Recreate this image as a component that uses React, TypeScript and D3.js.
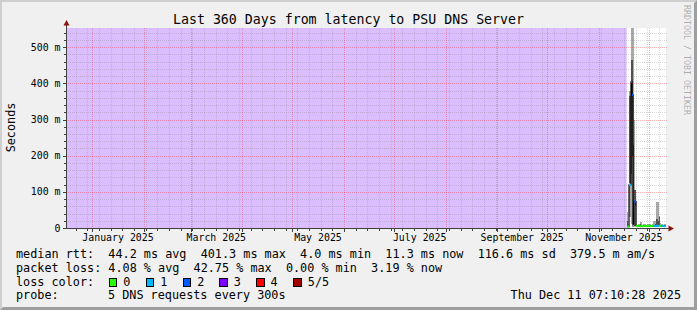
import React from "react";
import * as d3 from "d3";

// ---------- data ----------
const GRAPH_START = "2024-12-16T07:10:28Z";
const GRAPH_END = "2025-12-11T07:10:28Z";
const UNKNOWN_END = "2025-11-17T17:15:00Z"; // no data before this (loss background)
const DATA_START = "2025-11-17T21:34:00Z";
const DATA_STEP_HOURS = 14.4;

const Y_MAX_MS = 553;
const Y_TICKS = [0, 100, 200, 300, 400, 500];
const Y_TICK_LABELS = ["0", "100 m", "200 m", "300 m", "400 m", "500 m"];
const Y_MINOR_STEP = 20;

const X_LABEL_MONTHS = ["2025-01-01", "2025-03-01", "2025-05-01", "2025-07-01", "2025-09-01", "2025-11-01"];
const X_LABELS = ["January 2025", "March 2025", "May 2025", "July 2025", "September 2025", "November 2025"];

// median rtt (ms) per rrd step
const MEDIAN = [4, 4, 119, 119, 404, 368, 6, 73, 73,
  6, 5, 6, 6, 5, 6, 6, 5, 6, 6, 5, 6, 6, 6, 5, 6, 6,
  6, 6, 5, 6, 6, 6, 5, 6, 6, 6, 6, 5, 6, 6];
// lost pings out of 5 per step
const LOSS = [1, 0, 1, 1, 3, 2, 0, 2, 2,
  0, 0, 0, 0, 0, 0, 0, 0, 0, 0, 0, 0, 0, 0, 0, 0, 0,
  1, 1, 1, 1, 1, 1, 0, 0, 1, 1, 1, 1, 1, 1];
// smoke: outer ping range
const SMOKE_LO = [3, 3, 30, 30, 10, 10, 3, 5, 5,
  3, 3, 3, 3, 3, 3, 3, 3, 3, 3, 3, 3, 3, 3, 3, 3, 3,
  3, 3, 3, 3, 3, 3, 3, 3, 3, 3, 3, 3, 3, 3];
const SMOKE_HI = [44, 10, 380, 380, 620, 620, 620, 300, 105,
  10, 9, 10, 11, 17, 17, 9, 10, 12, 10, 9, 11, 10, 12, 10, 9, 11,
  19, 19, 19, 73, 73, 73, 33, 14, 10, 12, 9, 11, 10, 12];
// smoke: inner ping range
const INNER_LO = [3, 3, 124, 124, 150, 200, 40, 73, 60,
  4, 4, 4, 4, 4, 4, 4, 4, 4, 4, 4, 4, 4, 4, 4, 4, 4,
  4, 4, 4, 8, 8, 6, 6, 4, 4, 4, 4, 4, 4, 4];
const INNER_HI = [20, 6, 365, 365, 465, 465, 230, 105, 105,
  7, 6, 7, 8, 10, 9, 6, 7, 8, 7, 6, 7, 7, 8, 7, 6, 7,
  9, 9, 10, 25, 25, 20, 30, 9, 7, 8, 6, 7, 7, 8];

const LOSS_COLORS = ["#26ff00", "#00b8ff", "#0059ff", "#7e00ff", "#ff0000", "#a10000"];
const LOSS_LABELS = ["0", "1", "2", "3", "4", "5/5"];
const UNKNOWN_BG = "#dbbeff";

const LEGEND_RTT_LABEL = "median rtt:";
const LEGEND_RTT = ["44.2 ms avg", "401.3 ms max", "4.0 ms min", "11.3 ms now", "116.6 ms sd", "379.5 m am/s"];
const LEGEND_LOSS_LABEL = "packet loss:";
const LEGEND_LOSS = ["4.08 % avg", "42.75 % max", "0.00 % min", "3.19 % now"];
const LEGEND_PROBE = ["probe:", "5 DNS requests every 300s"];
const TITLE = "Last 360 Days from latency to PSU DNS Server";
const TIMESTAMP = "Thu Dec 11 07:10:28 2025";

// ---------- layout ----------
const W = 697, H = 310;
const X0 = 66, X1 = 666, YT = 28, YB = 228;
const FONT = "'DejaVu Sans Mono', monospace";
const BOX_X = [108.7, 145.7, 182.7, 219.3, 256, 293.3];
const GRID_MINOR = "rgba(128,128,128,0.3)";
const GRID_MAJOR = "rgba(255,0,0,0.3)";
const PRE: React.CSSProperties = { whiteSpace: "pre" };

export default function App() {
  const start = new Date(GRAPH_START);
  const end = new Date(GRAPH_END);
  const x = d3.scaleUtc().domain([start, end]).range([X0, X1]);
  const y = d3.scaleLinear().domain([0, Y_MAX_MS]).range([YB, YT]);

  const d0 = new Date(DATA_START).getTime();
  const stepMs = DATA_STEP_HOURS * 3600 * 1000;
  const times = MEDIAN.map((_, i) => new Date(d0 + i * stepMs));
  const colX = (i: number) => x(new Date(d0 + i * stepMs));

  const months = d3.utcMonth.range(start, end);
  const monthSet = new Set(months.map((m) => +m));
  const weeks = d3.utcSunday.range(start, end).filter((w) => !monthSet.has(+w));

  const minorY: number[] = [];
  for (let v = Y_MINOR_STEP; v < Y_MAX_MS; v += Y_MINOR_STEP) if (v % 100 !== 0) minorY.push(v);

  const stepPts: [number, number][] = MEDIAN.map((m, i) => [colX(i), y(m)]);
  stepPts.push([colX(MEDIAN.length), y(MEDIAN[MEDIAN.length - 1])]);
  const medianPath = d3.line().curve(d3.curveStepAfter)(stepPts) || "";

  const clamp = (v: number) => Math.max(YT, v);
  const px = (v: number) => Math.round(v) + 0.5;

  const rttLine = LEGEND_RTT_LABEL + "  " + LEGEND_RTT.join("  ");
  const lossLine = LEGEND_LOSS_LABEL + " " + LEGEND_LOSS.join("  ");

  return (
    <div style={{ position: "absolute", left: 0, top: 0 }}>
      <svg width={W} height={H} style={{ display: "block" }} fontFamily={FONT}>
        <defs>
          <clipPath id="plot"><rect x={X0} y={YT} width={X1 - X0} height={YB - YT} /></clipPath>
        </defs>
        <rect x={0} y={0} width={W} height={H} fill="#f0f0f0" />
        <polygon points={`0,0 ${W},0 ${W - 2},2 2,2 2,${H - 2} 0,${H}`} fill="#cfcfcf" />
        <polygon points={`${W},${H} 0,${H} 3,${H - 3} ${W - 3},${H - 3} ${W - 3},3 ${W},0`} fill="#9e9e9e" />

        {/* canvas */}
        <rect x={X0} y={YT} width={X1 - X0} height={YB - YT} fill="#ffffff" />
        <rect x={x(start)} y={YT} width={x(new Date(UNKNOWN_END)) - x(start)} height={YB - YT} fill={UNKNOWN_BG} />

        {/* smoke */}
        <g clipPath="url(#plot)" shapeRendering="crispEdges">
          {times.map((t, i) => (
            <rect key={"s" + i} x={colX(i)} width={colX(i + 1) - colX(i) + 0.05}
              y={clamp(y(SMOKE_HI[i]))} height={y(SMOKE_LO[i]) - clamp(y(SMOKE_HI[i]))} fill="#a8a8a8" />
          ))}
          {times.map((t, i) => (
            <rect key={"d" + i} x={colX(i)} width={colX(i + 1) - colX(i) + 0.05}
              y={clamp(y(INNER_HI[i]))} height={y(INNER_LO[i]) - clamp(y(INNER_HI[i]))} fill="#505050" />
          ))}
        </g>

        {/* grid */}
        <g strokeDasharray="1,1" strokeWidth={1} shapeRendering="crispEdges">
          {weeks.map((w, i) => (
            <line key={"wv" + i} x1={px(x(w))} x2={px(x(w))} y1={YT} y2={YB} stroke={GRID_MINOR} />
          ))}
          {minorY.map((v, i) => (
            <line key={"mh" + i} x1={X0} x2={X1 + 1} y1={px(y(v))} y2={px(y(v))} stroke={GRID_MINOR} />
          ))}
          {months.map((m, i) => (
            <line key={"Mv" + i} x1={px(x(m))} x2={px(x(m))} y1={YT} y2={YB} stroke={GRID_MAJOR} />
          ))}
          {Y_TICKS.filter((v) => v > 0).map((v, i) => (
            <line key={"Mh" + i} x1={X0} x2={X1 + 1} y1={px(y(v))} y2={px(y(v))} stroke={GRID_MAJOR} />
          ))}
        </g>

        {/* median line */}
        <g clipPath="url(#plot)">
          <path d={medianPath} fill="none" stroke="#000" strokeWidth={1.2} />
          {MEDIAN.map((m, i) => (
            <rect key={"m" + i} x={colX(i)} width={colX(i + 1) - colX(i) + 0.1} y={y(m) - 1} height={2}
              fill={LOSS_COLORS[LOSS[i]]} />
          ))}
        </g>

        {/* axes */}
        <g shapeRendering="crispEdges" stroke="#404040">
          <line x1={X0 + 0.5} x2={X0 + 0.5} y1={YB + 1} y2={23} />
          <line x1={63} x2={669} y1={YB + 0.5} y2={YB + 0.5} />
          {minorY.map((v, i) => (
            <line key={"yt" + i} x1={64} x2={X0} y1={px(y(v))} y2={px(y(v))} />
          ))}
          {Y_TICKS.map((v, i) => (
            <line key={"yT" + i} x1={63} x2={X0} y1={px(y(v))} y2={px(y(v))} />
          ))}
          {weeks.map((w, i) => (
            <line key={"xt" + i} x1={px(x(w))} x2={px(x(w))} y1={YB} y2={YB + 3} />
          ))}
          {months.map((m, i) => (
            <line key={"xT" + i} x1={px(x(m))} x2={px(x(m))} y1={YB} y2={YB + 4} />
          ))}
        </g>
        <polygon points={`${X0 + 0.5},20 ${X0 - 2.5},25.5 ${X0 + 3.5},25.5`} fill="#8b1010" />
        <polygon points={`674,${YB + 0.5} 668.5,${YB - 2.5} 668.5,${YB + 3.5}`} fill="#8b1010" />

        {/* axis labels */}
        <g fontSize={9.9} fill="#000">
          {Y_TICKS.map((v, i) => (
            <text key={"yl" + i} x={60.5} y={y(v) + 3.6} textAnchor="end">{Y_TICK_LABELS[i]}</text>
          ))}
          {X_LABEL_MONTHS.map((s, i) => {
            const m0 = new Date(s + "T00:00:00Z");
            const m1 = d3.utcMonth.offset(m0, 1);
            return (
              <text key={"xl" + i} x={(x(m0) + x(m1)) / 2} y={240.5} textAnchor="middle">{X_LABELS[i]}</text>
            );
          })}
        </g>

        <text x={W / 2} y={24} textAnchor="middle" fontSize={13.25} fill="#000">{TITLE}</text>
        <text transform="translate(15,127.5) rotate(-90)" textAnchor="middle" fontSize={11.8} fill="#000">Seconds</text>
        <text transform="translate(684,5) rotate(90)" fontSize={8.3} fill="rgba(0,0,0,0.3)">RRDTOOL / TOBI OETIKER</text>

        {/* legend */}
        <g fontSize={11.8} fill="#000">
          <text x={16} y={258.3} xmlSpace="preserve" style={PRE}>{rttLine}</text>
          <text x={16} y={272} xmlSpace="preserve" style={PRE}>{lossLine}</text>
          <text x={16} y={285.7}>loss color:</text>
          {LOSS_COLORS.map((c, i) => (
            <g key={"b" + i}>
              <rect x={BOX_X[i] + 0.5} y={278.5} width={7.5} height={7.5} fill={c} stroke="#000" strokeWidth={1} shapeRendering="crispEdges" />
              <text x={BOX_X[i] + 14.5} y={285.7}>{LOSS_LABELS[i]}</text>
            </g>
          ))}
          <text x={16} y={299.4}>{LEGEND_PROBE[0]}</text>
          <text x={108} y={299.4}>{LEGEND_PROBE[1]}</text>
          <text x={681} y={299.4} textAnchor="end">{TIMESTAMP}</text>
        </g>
      </svg>
    </div>
  );
}
